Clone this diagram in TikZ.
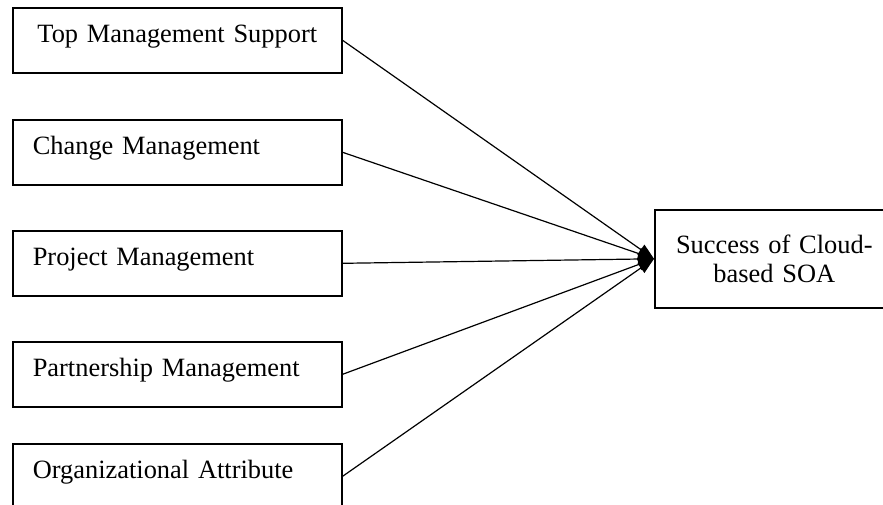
\documentclass[tikz,border=0pt]{standalone}
\usepackage{fontspec}
\setmainfont{Liberation Serif}
\usetikzlibrary{arrows.meta}
\begin{document}
\begin{tikzpicture}[x=0.5pt,y=-0.5pt,
  factor/.style={draw,line width=0.8pt,anchor=north west,inner ysep=0pt,inner xsep=10pt,
    text width=144.5pt,align=left,text height=17.5pt,text depth=15pt,
    font=\fontsize{13.2pt}{14.5pt}\selectfont},
  outcome/.style={draw,line width=0.8pt,anchor=north west,minimum width=114.5pt,minimum height=49pt,
    inner sep=0pt,text width=114.5pt,align=center,font=\fontsize{13.2pt}{14.5pt}\selectfont},
  link/.style={line width=0.6pt,-{Triangle[length=8pt,width=6pt]}}]
\useasboundingbox (0,0) rectangle (883,504);
\node[factor,align=center] (tms) at (12,7) {Top Management Support};
\node[factor] (cm) at (12,119) {Change Management};
\node[factor] (pm) at (12,230) {Project Management};
\node[factor] (psm) at (12,341) {Partnership Management};
\node[factor] (oa) at (12,443) {Organizational Attribute};
\node[outcome] (s) at (654,209) {\hspace*{5pt}Success of Cloud-\\\hspace*{5pt}based SOA};
\foreach \n in {tms,cm,pm,psm,oa}
  \draw[link] (\n.east) -- (s.west);
\end{tikzpicture}
\end{document}
